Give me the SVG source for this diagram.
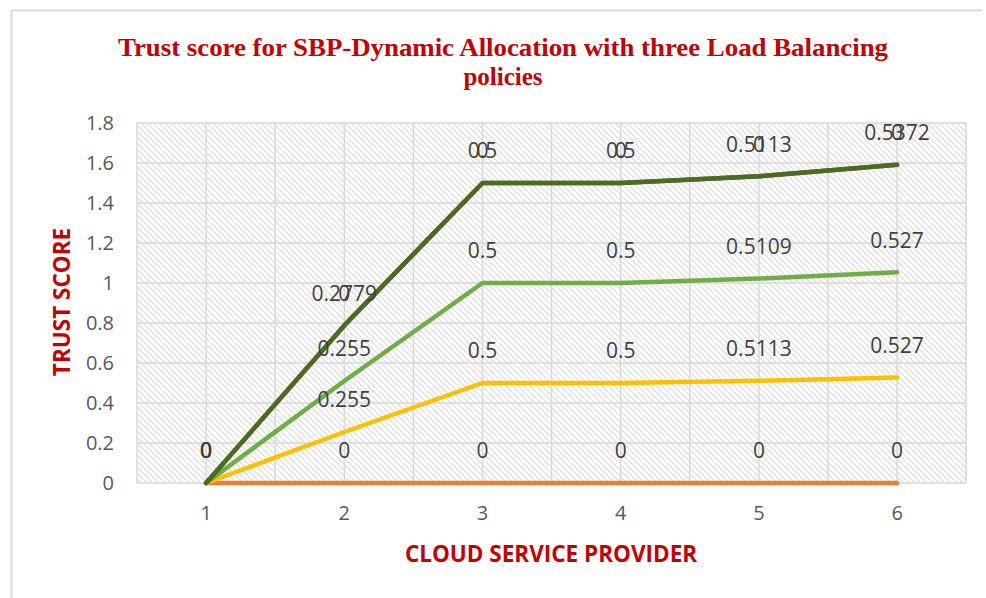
<svg xmlns="http://www.w3.org/2000/svg" width="986" height="598" viewBox="0 0 986 598">
<defs>
<pattern id="hatch" width="6" height="6" patternUnits="userSpaceOnUse">
<path d="M-1,-1 L7,7 M-1,5 L1,7 M5,-1 L7,1" stroke="#dcdcdc" stroke-width="1.2"/>
</pattern>
</defs>
<style>
.title{font-family:"Liberation Serif","Times New Roman",serif;font-weight:bold;font-size:25px;fill:#C00000;text-anchor:middle}
.axt{font-family:"Open Sans","Liberation Sans",sans-serif;font-weight:bold;font-size:22.5px;fill:#C00000;text-anchor:middle}
.tick{font-family:"Open Sans","Liberation Sans",sans-serif;font-size:20px;fill:#595959}
.lbl{font-family:"Open Sans","Liberation Sans",sans-serif;font-size:21px;fill:#404040;text-anchor:middle}
.grid{stroke:#d9d9d9;stroke-width:1.5;fill:none}
.ser{fill:none;stroke-width:4.5;stroke-linejoin:round;stroke-linecap:round}
</style>
<rect width="986" height="598" fill="#ffffff"/>
<path d="M11.5,598 V10.5 H982" fill="none" stroke="#d9d9d9" stroke-width="2"/>
<g id="title">
<text class="title" x="503" y="56" textLength="770" lengthAdjust="spacingAndGlyphs">Trust score for SBP-Dynamic Allocation with three Load Balancing</text>
<text class="title" x="503" y="85">policies</text>
</g>
<g id="plot-area">
<rect x="137" y="123" width="829" height="360" fill="url(#hatch)"/>
<path class="grid" d="M137,123 H966 M137,163 H966 M137,203 H966 M137,243 H966 M137,283 H966 M137,323 H966 M137,363 H966 M137,403 H966 M137,443 H966 M137,483 H966"/>
<path class="grid" d="M137,123 V483 M206.1,123 V483 M275.2,123 V483 M344.3,123 V483 M413.4,123 V483 M482.5,123 V483 M551.6,123 V483 M620.7,123 V483 M689.8,123 V483 M758.9,123 V483 M828,123 V483 M897.1,123 V483 M966,123 V483"/>
</g>
<g id="y-axis">
<text class="tick" x="114" y="490" text-anchor="end">0</text>
<text class="tick" x="114" y="450" text-anchor="end">0.2</text>
<text class="tick" x="114" y="410" text-anchor="end">0.4</text>
<text class="tick" x="114" y="370" text-anchor="end">0.6</text>
<text class="tick" x="114" y="330" text-anchor="end">0.8</text>
<text class="tick" x="114" y="290" text-anchor="end">1</text>
<text class="tick" x="114" y="250" text-anchor="end">1.2</text>
<text class="tick" x="114" y="210" text-anchor="end">1.4</text>
<text class="tick" x="114" y="170" text-anchor="end">1.6</text>
<text class="tick" x="114" y="130" text-anchor="end">1.8</text>
<text class="axt" transform="translate(70,302) rotate(-90)">TRUST SCORE</text>
</g>
<g id="x-axis">
<text class="tick" x="206.1" y="520" text-anchor="middle">1</text>
<text class="tick" x="344.3" y="520" text-anchor="middle">2</text>
<text class="tick" x="482.5" y="520" text-anchor="middle">3</text>
<text class="tick" x="620.7" y="520" text-anchor="middle">4</text>
<text class="tick" x="758.9" y="520" text-anchor="middle">5</text>
<text class="tick" x="897.1" y="520" text-anchor="middle">6</text>
<text class="axt" x="551" y="562">CLOUD SERVICE PROVIDER</text>
</g>
<g id="connectors">
<polyline id="series-orange" class="ser" stroke="#ED7D31" stroke-linecap="butt" points="206.1,483 344.3,483 482.5,483 620.7,483 758.9,483 897.1,483"/>
<polyline id="series-yellow" class="ser" stroke="#FFC000" points="206.1,483 344.3,432 482.5,383 620.7,383 758.9,380.7 897.1,377.6"/>
<polyline id="series-green" class="ser" stroke="#70AD47" points="206.1,483 344.3,381 482.5,283 620.7,283 758.9,278.6 897.1,272.2"/>
<polyline id="series-top-zero" class="ser" stroke="#7A6322" stroke-width="5" points="206.1,483 344.3,325.4 482.5,183 620.7,183 758.9,176.3 897.1,164.8"/>
<polyline id="series-darkgreen" class="ser" stroke="#4B6B25" points="206.1,483 344.3,325.4 482.5,183 620.7,183 758.9,176.3 897.1,164.8"/>
</g>
<g id="labels-orange">
<text class="lbl" x="206.1" y="458">0</text>
<text class="lbl" x="344.3" y="458">0</text>
<text class="lbl" x="482.5" y="458">0</text>
<text class="lbl" x="620.7" y="458">0</text>
<text class="lbl" x="758.9" y="458">0</text>
<text class="lbl" x="897.1" y="458">0</text>
</g>
<g id="labels-yellow">
<text class="lbl" x="206.1" y="458">0</text>
<text class="lbl" x="344.3" y="407">0.255</text>
<text class="lbl" x="482.5" y="358">0.5</text>
<text class="lbl" x="620.7" y="358">0.5</text>
<text class="lbl" x="758.9" y="356">0.5113</text>
<text class="lbl" x="897.1" y="353">0.527</text>
</g>
<g id="labels-green">
<text class="lbl" x="206.1" y="458">0</text>
<text class="lbl" x="344.3" y="356">0.255</text>
<text class="lbl" x="482.5" y="258">0.5</text>
<text class="lbl" x="620.7" y="258">0.5</text>
<text class="lbl" x="758.9" y="254">0.5109</text>
<text class="lbl" x="897.1" y="248">0.527</text>
</g>
<g id="labels-darkgreen">
<text class="lbl" x="206.1" y="458">0</text>
<text class="lbl" x="344.3" y="301">0.2779</text>
<text class="lbl" x="482.5" y="158">0.5</text>
<text class="lbl" x="620.7" y="158">0.5</text>
<text class="lbl" x="758.9" y="152">0.5113</text>
<text class="lbl" x="897.1" y="140">0.5372</text>
</g>
<g id="labels-top-zero">
<text class="lbl" x="206.1" y="458">0</text>
<text class="lbl" x="344.3" y="301">0</text>
<text class="lbl" x="482.5" y="158">0</text>
<text class="lbl" x="620.7" y="158">0</text>
<text class="lbl" x="758.9" y="152">0</text>
<text class="lbl" x="897.1" y="140">0</text>
</g>
</svg>
